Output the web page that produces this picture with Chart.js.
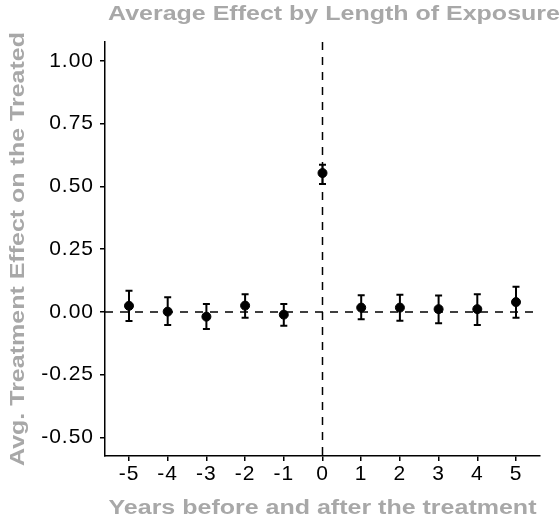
<!DOCTYPE html>
<html lang="en">
<head>
  <meta charset="UTF-8" />
  <title>Average Effect by Length of Exposure</title>
  <script src="https://cdn.jsdelivr.net/npm/chart.js"></script>
  <style>
    body {
      margin: 0;
      background: #fff;
    }
    .wrap {
      width: 559px;
      height: 522px;
    }
  </style>
</head>
<body>
  <div class="wrap">
    <canvas id="chart" width="559" height="522"></canvas>
  </div>

  <script>
    // values
    const years = [-5, -4, -3, -2, -1, 0, 1, 2, 3, 4, 5];
    const effect = [0.024, 0.001, -0.019, 0.025, -0.011, 0.553, 0.017, 0.017, 0.011, 0.011, 0.039];
    const lower = [-0.036, -0.052, -0.068, -0.023, -0.055, 0.509, -0.029, -0.035, -0.045, -0.052, -0.023];
    const upper = [0.084, 0.058, 0.031, 0.070, 0.031, 0.586, 0.066, 0.068, 0.065, 0.070, 0.100];
    const yTicks = [-0.5, -0.25, 0, 0.25, 0.5, 0.75, 1.0];

    const titleText = "Average Effect by Length of Exposure";
    const xTitle = "Years before and after the treatment";
    const yTitle = "Avg. Treatment Effect on the Treated";

    const gray = '#a8a8a8';
    const tickFont = { family: "'Liberation Sans', Arial, sans-serif", size: 21 };
    const stretch = 1.25; // the reference text is set wide

    // dashed reference lines, error bars and the titles
    const extras = {
      id: 'extras',
      beforeDraw(chart) {
        chart.ctx.letterSpacing = '1px';
      },
      beforeDatasetsDraw(chart) {
        const { ctx, chartArea: a, scales: { x, y } } = chart;
        ctx.save();
        ctx.strokeStyle = '#000';
        ctx.lineWidth = 1.5;
        ctx.setLineDash([8, 7]);
        ctx.beginPath();
        ctx.moveTo(a.left, y.getPixelForValue(0));
        ctx.lineTo(a.right, y.getPixelForValue(0));
        ctx.moveTo(x.getPixelForValue(0), a.top);
        ctx.lineTo(x.getPixelForValue(0), a.bottom);
        ctx.stroke();

        ctx.setLineDash([]);
        ctx.lineWidth = 2;
        years.forEach((yr, i) => {
          const px = x.getPixelForValue(yr);
          const lo = y.getPixelForValue(lower[i]);
          const hi = y.getPixelForValue(upper[i]);
          ctx.beginPath();
          ctx.moveTo(px, lo);
          ctx.lineTo(px, hi);
          ctx.moveTo(px - 3.5, lo);
          ctx.lineTo(px + 3.5, lo);
          ctx.moveTo(px - 3.5, hi);
          ctx.lineTo(px + 3.5, hi);
          ctx.stroke();
        });
        ctx.restore();
      },
      afterDraw(chart) {
        const { ctx, chartArea: a } = chart;
        ctx.letterSpacing = '0px';
        ctx.fillStyle = gray;
        ctx.font = "bold 20px 'Liberation Sans', Arial, sans-serif";
        ctx.textBaseline = 'alphabetic';

        ctx.save();
        ctx.translate(108, 20);
        ctx.scale(stretch, 1);
        ctx.textAlign = 'left';
        ctx.fillText(titleText, 0, 0);
        ctx.restore();

        ctx.save();
        ctx.translate((a.left + a.right) / 2, 514);
        ctx.scale(stretch, 1);
        ctx.textAlign = 'center';
        ctx.fillText(xTitle, 0, 0);
        ctx.restore();

        ctx.save();
        ctx.translate(24, (a.top + a.bottom) / 2);
        ctx.rotate(-Math.PI / 2);
        ctx.scale(stretch, 1);
        ctx.textAlign = 'center';
        ctx.fillText(yTitle, 0, 0);
        ctx.restore();
      }
    };

    new Chart(document.getElementById('chart'), {
      type: 'scatter',
      data: {
        datasets: [{
          data: years.map((yr, i) => ({ x: yr, y: effect[i] })),
          backgroundColor: '#000',
          borderColor: '#000',
          pointRadius: 4.5,
          pointHoverRadius: 4.5
        }]
      },
      options: {
        responsive: false,
        animation: false,
        layout: { padding: { top: 42, right: 19, left: 0, bottom: 0 } },
        plugins: {
          legend: { display: false },
          tooltip: { enabled: false }
        },
        scales: {
          x: {
            type: 'linear',
            min: -5.62,
            max: 5.62,
            afterBuildTicks: s => { s.ticks = years.map(v => ({ value: v })); },
            afterFit: s => { s.height = 66; },
            border: { display: true, color: '#000', width: 1.5 },
            grid: { drawOnChartArea: false, drawTicks: true, tickLength: 5, color: '#000', lineWidth: 1.5 },
            ticks: { color: '#000', font: tickFont, padding: 1, maxRotation: 0, autoSkip: false }
          },
          y: {
            type: 'linear',
            min: -0.574,
            max: 1.075,
            afterBuildTicks: s => { s.ticks = yTicks.map(v => ({ value: v })); },
            afterFit: s => { s.width = 105; },
            border: { display: true, color: '#000', width: 1.5 },
            grid: { drawOnChartArea: false, drawTicks: true, tickLength: 5, color: '#000', lineWidth: 1.5 },
            ticks: {
              color: '#000',
              font: tickFont,
              padding: 6,
              autoSkip: false,
              callback: v => v.toFixed(2)
            }
          }
        }
      },
      plugins: [extras]
    });
  </script>
</body>
</html>
